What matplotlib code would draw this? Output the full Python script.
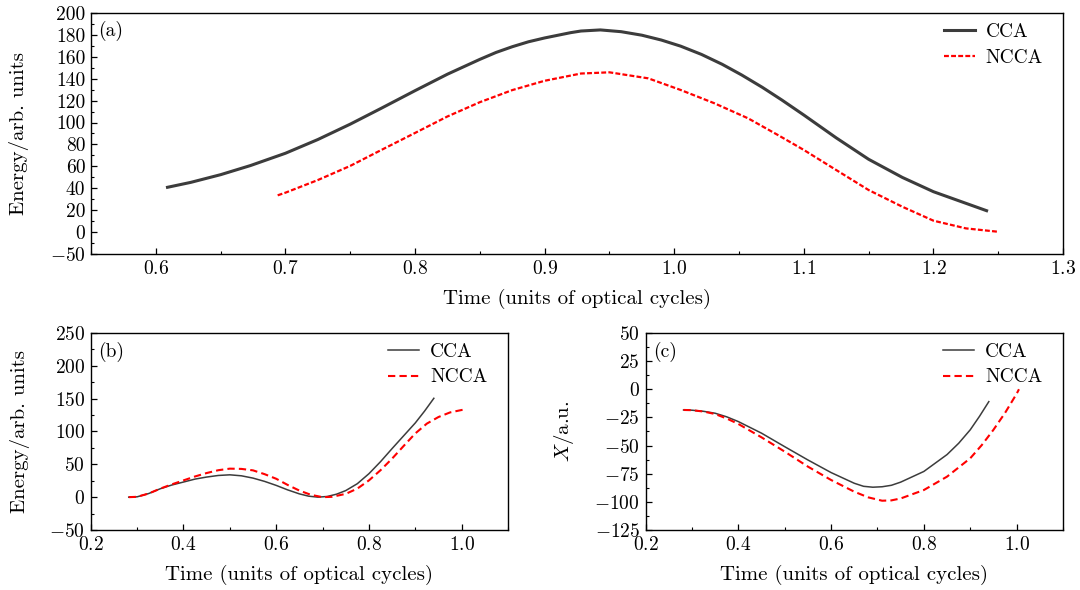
import matplotlib
matplotlib.use("Agg")
import matplotlib.pyplot as plt
from matplotlib.ticker import MultipleLocator

plt.rcParams['font.family'] = 'serif'
plt.rcParams['font.serif'] = ['cmr10']
plt.rcParams['mathtext.fontset'] = 'cm'
plt.rcParams['axes.formatter.use_mathtext'] = True
plt.rcParams['font.size'] = 14

# ---- panel (a): energy vs time
a_cca_t = [0.609, 0.627, 0.65, 0.673, 0.70, 0.725, 0.75, 0.774, 0.80, 0.825, 0.85,
           0.8625, 0.875, 0.8875, 0.90, 0.92, 0.928, 0.943, 0.959, 0.975, 0.99, 1.005,
           1.021, 1.037, 1.052, 1.068, 1.083, 1.10, 1.125, 1.15, 1.176, 1.20, 1.218,
           1.241]
a_cca_e = [41.0, 45.5, 52.5, 60.8, 72.0, 84.5, 98.5, 113.0, 129.0, 144.0, 157.5,
           163.8, 169.0, 173.5, 177.0, 181.8, 183.3, 184.3, 182.7, 179.5, 175.1, 169.5,
           162.0, 153.0, 143.3, 132.0, 120.5, 106.8, 86.0, 66.5, 50.0, 37.0, 29.4,
           19.7]
a_ncca_t = [0.694, 0.70, 0.725, 0.75, 0.774, 0.80, 0.825, 0.85, 0.875, 0.90, 0.928,
            0.95, 0.98, 1.005, 1.031, 1.057, 1.08, 1.10, 1.125, 1.15, 1.176, 1.20,
            1.225, 1.25]
a_ncca_e = [33.7, 36.1, 47.6, 60.5, 75.0, 90.5, 105.5, 118.5, 129.5, 138.0, 144.6,
            145.7, 140.2, 129.6, 117.5, 103.8, 88.6, 75.0, 56.7, 38.5, 23.3, 10.6,
            3.6, 0.5]

# ---- panel (b): energy vs time
b_cca_t = [0.282, 0.30, 0.325, 0.35, 0.375, 0.40, 0.425, 0.45, 0.475, 0.50, 0.525,
           0.55, 0.575, 0.60, 0.625, 0.65, 0.67, 0.69, 0.71, 0.73, 0.75, 0.775, 0.80,
           0.825, 0.85, 0.875, 0.90, 0.92, 0.94]
b_cca_e = [0.0, 0.5, 5.5, 12.8, 18.5, 23.0, 27.5, 30.6, 33.0, 34.0, 32.5,
           29.0, 24.0, 17.9, 11.0, 5.0, 1.5, 0.0, 1.0, 4.5, 10.0, 20.5, 35.7,
           54.0, 74.0, 93.5, 113.0, 131.0, 150.5]
b_ncca_t = [0.282, 0.30, 0.325, 0.35, 0.375, 0.40, 0.425, 0.45, 0.475, 0.50, 0.525,
            0.55, 0.575, 0.60, 0.625, 0.65, 0.675, 0.70, 0.72, 0.75, 0.775, 0.80,
            0.825, 0.85, 0.875, 0.90, 0.925, 0.95, 0.975, 1.00, 1.005]
b_ncca_e = [0.0, 0.5, 5.5, 13.0, 19.5, 25.5, 31.5, 36.7, 41.0, 43.4, 43.0,
            40.8, 35.0, 28.0, 18.5, 10.0, 3.5, 0.0, 0.5, 5.0, 13.0, 25.5,
            41.0, 58.7, 78.0, 97.0, 112.0, 122.0, 129.0, 132.7, 133.0]

# ---- panel (c): position vs time
c_cca_t = [0.282, 0.30, 0.325, 0.35, 0.375, 0.40, 0.45, 0.50, 0.55, 0.60, 0.65, 0.67,
           0.69, 0.71, 0.73, 0.75, 0.80, 0.85, 0.875, 0.90, 0.92, 0.94]
c_cca_x = [-18.4, -18.6, -19.6, -21.3, -24.5, -28.7, -39.0, -51.0, -62.8, -74.0, -83.5,
           -86.2, -87.0, -86.6, -85.3, -82.5, -73.0, -58.0, -48.0, -36.0, -24.0, -11.0]
c_ncca_t = [0.282, 0.30, 0.325, 0.35, 0.375, 0.40, 0.45, 0.50, 0.55, 0.60, 0.65, 0.68,
            0.71, 0.73, 0.75, 0.80, 0.85, 0.90, 0.925, 0.95, 0.975, 1.00, 1.005]
c_ncca_x = [-18.4, -18.6, -19.8, -22.0, -26.0, -30.8, -42.7, -55.4, -68.7, -80.6, -91.0,
            -96.0, -99.0, -98.7, -97.0, -89.5, -77.6, -61.3, -49.5, -36.0, -21.0, -4.0,
            0.0]

a_yticks = [-20, 0, 20, 40, 60, 80, 100, 120, 140, 160, 180, 200]
a_ylabels = ['$-50$', '0', '20', '40', '60', '80', '100', '120', '140', '160', '180', '200']

xlabel = 'Time (units of optical cycles)'
gray = '#3c3c3c'
red = '#ff0000'


def style(ax):
    ax.tick_params(which='both', direction='in', top=False, right=False, labelsize=14)
    ax.tick_params(which='major', length=4, width=0.9, pad=4)
    ax.tick_params(which='minor', length=2.5, width=0.8)
    for s in ax.spines.values():
        s.set_linewidth(1.0)


def legend(ax, x, y):
    ax.legend(loc='upper right', bbox_to_anchor=(x, y), frameon=False,
              handlelength=1.6, borderaxespad=0.0, labelspacing=0.4,
              handletextpad=0.55, fontsize=14)


fig = plt.figure(figsize=(10.8, 5.9), dpi=100)

ax = fig.add_axes([0.0843, 0.569, 0.9, 0.4095])
ax.plot(a_cca_t, a_cca_e, color=gray, lw=2.2, label='CCA')
ax.plot(a_ncca_t, a_ncca_e, color=red, lw=1.6, ls=(0, (2.2, 1.0)), label='NCCA')
ax.set_xlim(0.55, 1.3)
ax.set_ylim(-20, 200)
ax.xaxis.set_major_locator(MultipleLocator(0.1))
ax.xaxis.set_minor_locator(MultipleLocator(0.05))
ax.set_yticks(a_yticks)
ax.set_yticklabels(a_ylabels)
ax.yaxis.set_minor_locator(MultipleLocator(10))
ax.set_xlabel(xlabel, fontsize=15)
ax.set_ylabel('Energy/arb. units', fontsize=15)
ax.xaxis.set_label_coords(0.5, -0.144)
ax.yaxis.set_label_coords(-0.064, 0.5)
ax.text(0.007, 0.965, '(a)', transform=ax.transAxes, va='top', ha='left', fontsize=14)
legend(ax, 0.987, 0.99)
style(ax)

ax = fig.add_axes([0.084, 0.1017, 0.3864, 0.334])
ax.plot(b_cca_t, b_cca_e, color=gray, lw=1.1, label='CCA')
ax.plot(b_ncca_t, b_ncca_e, color=red, lw=1.5, ls=(0, (3.5, 2.0)), label='NCCA')
ax.set_xlim(0.2, 1.1)
ax.set_ylim(-50, 250)
ax.xaxis.set_major_locator(MultipleLocator(0.2))
ax.xaxis.set_minor_locator(MultipleLocator(0.1))
ax.yaxis.set_major_locator(MultipleLocator(50))
ax.yaxis.set_minor_locator(MultipleLocator(25))
ax.set_xlabel(xlabel, fontsize=15)
ax.set_ylabel('Energy/arb. units', fontsize=15)
ax.xaxis.set_label_coords(0.5, -0.178)
ax.yaxis.set_label_coords(-0.145, 0.5)
ax.text(0.018, 0.955, '(b)', transform=ax.transAxes, va='top', ha='left', fontsize=14)
legend(ax, 0.969, 0.99)
style(ax)

ax = fig.add_axes([0.5977, 0.1017, 0.3866, 0.334])
ax.plot(c_cca_t, c_cca_x, color=gray, lw=1.1, label='CCA')
ax.plot(c_ncca_t, c_ncca_x, color=red, lw=1.5, ls=(0, (3.5, 2.0)), label='NCCA')
ax.set_xlim(0.2, 1.1)
ax.set_ylim(-125, 50)
ax.xaxis.set_major_locator(MultipleLocator(0.2))
ax.xaxis.set_minor_locator(MultipleLocator(0.1))
ax.yaxis.set_major_locator(MultipleLocator(25))
ax.yaxis.set_minor_locator(MultipleLocator(12.5))
ax.set_xlabel(xlabel, fontsize=15)
ax.set_ylabel('$X$/a.u.', fontsize=15)
ax.xaxis.set_label_coords(0.5, -0.178)
ax.yaxis.set_label_coords(-0.167, 0.5)
ax.text(0.018, 0.955, '(c)', transform=ax.transAxes, va='top', ha='left', fontsize=14)
legend(ax, 0.969, 0.99)
style(ax)

fig.savefig('out.png', dpi=100)
